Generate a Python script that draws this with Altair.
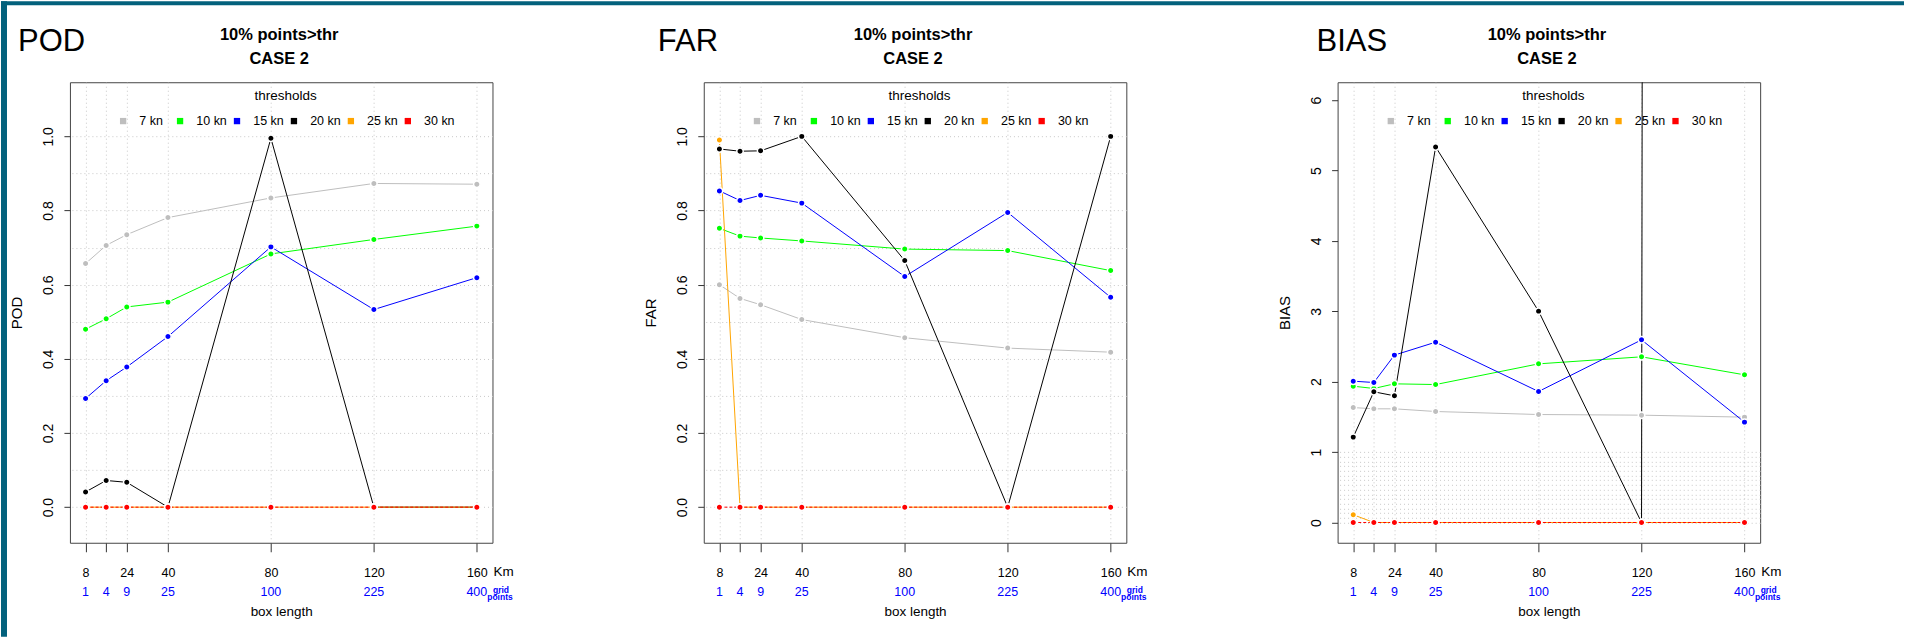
import altair as alt
import pandas as pd

# ---------------- data ----------------
xkm = [8, 16, 24, 40, 80, 120, 160]
grid_points = ["1", "4", "9", "25", "100", "225", "400"]
series = ["7 kn", "10 kn", "15 kn", "20 kn", "25 kn", "30 kn"]
colors = ["#bebebe", "#00ff00", "#0000ff", "#000000", "#ffa500", "#ff0000"]

pod_7 = [0.657, 0.706, 0.735, 0.781, 0.834, 0.873, 0.871]
pod_10 = [0.480, 0.508, 0.540, 0.553, 0.683, 0.722, 0.758]
pod_15 = [0.293, 0.341, 0.378, 0.460, 0.702, 0.533, 0.619]
pod_20 = [0.041, 0.072, 0.067, 0.0, 0.995, 0.0, 0.0]
pod_25 = [0.0, 0.0, 0.0, 0.0, 0.0, 0.0, 0.0]
pod_30 = [0.0, 0.0, 0.0, 0.0, 0.0, 0.0, 0.0]

far_7 = [0.600, 0.563, 0.546, 0.506, 0.457, 0.429, 0.418]
far_10 = [0.752, 0.731, 0.726, 0.718, 0.696, 0.692, 0.638]
far_15 = [0.853, 0.827, 0.841, 0.820, 0.622, 0.795, 0.566]
far_20 = [0.966, 0.960, 0.961, 1.0, 0.665, 0.0, 1.0]
far_25 = [0.990, 0.0, 0.0, 0.0, 0.0, 0.0, 0.0]
far_30 = [0.0, 0.0, 0.0, 0.0, 0.0, 0.0, 0.0]

bias_7 = [1.633, 1.615, 1.615, 1.577, 1.534, 1.525, 1.497]
bias_10 = [1.937, 1.904, 1.970, 1.960, 2.254, 2.354, 2.098]
bias_15 = [2.008, 1.989, 2.378, 2.562, 1.861, 2.595, 1.426]
bias_20 = [1.213, 1.857, 1.800, 5.336, 3.003, 0.0, 1000.0]
bias_25 = [0.11, 0.0, 0.0, 0.0, 0.0, 0.0, 0.0]
bias_30 = [0.0, 0.0, 0.0, 0.0, 0.0, 0.0, 0.0]

pod_ticks = [0.0, 0.2, 0.4, 0.6, 0.8, 1.0]
pod_grid = [0.0, 0.1, 0.2, 0.3, 0.4, 0.5, 0.6, 0.7, 0.8, 0.9, 1.0]
bias_ticks = [0, 1, 2, 3, 4, 5, 6]
bias_grid = [k / 15 for k in range(16)]

title_lines = "10% points>thr\nCASE 2"
legend_title = "thresholds"
x_title = "box length"

# ---------------- style ----------------
W, H = 423, 461
FONT = "Liberation Sans, Arial, sans-serif"
TEAL = "#03617c"
GRIDC = "#c8c8c8"
ONE = alt.Data(values=[{"a": 1}])


def long_df(vals):
    rows = []
    for i, s in enumerate(series):
        for x, v in zip(xkm, vals[i]):
            rows.append({"x": x, "v": v, "s": s, "o": i})
    return pd.DataFrame(rows)


def txt(text, x, y, size, weight="normal", color="#000", align="left",
        baseline="alphabetic", lineHeight=None):
    kw = dict(fontSize=size, font=FONT, fontWeight=weight, color=color, align=align,
              baseline=baseline)
    if lineHeight is not None:
        kw["lineHeight"] = lineHeight
        kw["lineBreak"] = "\n"
    df = pd.DataFrame({"t": [text]})
    return alt.Chart(df).mark_text(**kw).encode(x=alt.value(x), y=alt.value(y), text="t:N")


def panel(name, vals, ydom, yticks, yfmt, ygrid, label_dx, first=False):
    df = long_df(vals)
    xscale = alt.Scale(domain=[1.92, 166.08], nice=False, zero=False)
    yscale = alt.Scale(domain=ydom, nice=False, zero=False)
    xaxis = alt.Axis(values=xkm, format="d", labelExpr="datum.value == 16 ? '' : datum.label",
                     tickSize=9, tickColor="#333", labelPadding=15, labelFont=FONT,
                     labelFontSize=12.5, labelColor="#000", domain=False, grid=True,
                     gridDash=[1, 3], gridColor=GRIDC, labelOverlap=False, labelFlush=False,
                     title=x_title, titleFont=FONT, titleFontSize=13.5, titleFontWeight="normal",
                     titleColor="#000", titlePadding=25)
    yaxis = alt.Axis(orient="left", values=yticks, format=yfmt, labelAngle=270, labelAlign="center",
                     labelBaseline="bottom", labelFont=FONT, labelFontSize=14, labelColor="#000",
                     tickSize=6, tickColor="#333", labelPadding=8, domain=False, grid=False,
                     title=name, titleFont=FONT, titleFontSize=15, titleFontWeight="normal",
                     titleColor="#000", titlePadding=17)
    gaxis = alt.Axis(orient="right", values=ygrid, grid=True, gridDash=[1, 3], gridColor=GRIDC,
                     labels=False, ticks=False, domain=False, title="")
    X = alt.X("x:Q", scale=xscale, axis=xaxis)
    layers = []
    if first:
        layers.append(alt.Chart(ONE).mark_rect(color=TEAL).encode(
            x=alt.value(-69), x2=alt.value(1836), y=alt.value(-81), y2=alt.value(-77)))
        layers.append(alt.Chart(ONE).mark_rect(color=TEAL).encode(
            x=alt.value(-69), x2=alt.value(-63), y=alt.value(-81), y2=alt.value(555)))
    for i, s in enumerate(series):
        kw = dict(color=colors[i], strokeWidth=1, clip=True)
        if s == "30 kn":
            kw["strokeDash"] = [3, 2]
        layers.append(
            alt.Chart(df).transform_filter(alt.datum.s == s).mark_line(**kw).encode(
                x=X,
                y=alt.Y("v:Q", scale=yscale, axis=yaxis if i == 0 else None),
            )
        )
    legend = alt.Legend(title=legend_title, orient="none", legendX=47, legendY=7,
                        direction="horizontal", columns=6, symbolType="square", symbolSize=40,
                        symbolStrokeWidth=0, symbolOpacity=1, labelFont=FONT, labelFontSize=12.5,
                        labelColor="#000", labelOffset=10, columnPadding=3, gridAlign="all",
                        titleFont=FONT, titleFontSize=13.5, titleFontWeight="normal",
                        titleColor="#000", titleAnchor="middle", titlePadding=12, padding=0)
    layers.append(
        alt.Chart(df).mark_point(filled=True, size=42, stroke="white", strokeWidth=1.5,
                                 opacity=1, clip=True).encode(
            x=X,
            y=alt.Y("v:Q", scale=yscale, axis=gaxis),
            color=alt.Color("s:N", scale=alt.Scale(domain=series, range=colors), legend=legend),
            order=alt.Order("o:Q"),
        )
    )
    gp = pd.DataFrame({"x": xkm, "g": grid_points})
    layers.append(
        alt.Chart(gp).mark_text(color="#0000ff", fontSize=12.5, font=FONT, baseline="middle").encode(
            x=X, y=alt.value(H + 49), text="g:N")
    )
    layers.append(txt("Km", W + 1, H + 29.7, 13.5, baseline="middle"))
    layers.append(txt("grid", W + 8.5, H + 47, 8.5, weight="bold", color="#0000ff", align="center",
                      baseline="middle"))
    layers.append(txt("points", W + 7.5, H + 54.5, 8.5, weight="bold", color="#0000ff",
                      align="center", baseline="middle"))
    layers.append(txt(name, label_dx, -31, 31))
    layers.append(txt(title_lines, 209.5, -42, 16.5, weight="bold", align="center",
                      lineHeight=23.3))
    return alt.layer(*layers).resolve_axis(y="independent").properties(width=W, height=H)


p1 = panel("POD", [pod_7, pod_10, pod_15, pod_20, pod_25, pod_30], [-0.096, 1.146],
           pod_ticks, ".1f", pod_grid, -52, first=True)
p2 = panel("FAR", [far_7, far_10, far_15, far_20, far_25, far_30], [-0.096, 1.146],
           pod_ticks, ".1f", pod_grid, -46)
p3 = panel("BIAS", [bias_7, bias_10, bias_15, bias_20, bias_25, bias_30], [-0.288, 6.255],
           bias_ticks, "d", bias_grid, -21)

chart = (
    alt.hconcat(p1, p2, p3, spacing=211.5, bounds="flush")
    .resolve_scale(color="independent", x="independent", y="independent")
    .resolve_legend(color="independent")
    .properties(padding=0, background="white")
    .configure_view(stroke="#444", strokeWidth=1)
)

chart.save("out.html", embed_options={"renderer": "svg", "actions": False})
